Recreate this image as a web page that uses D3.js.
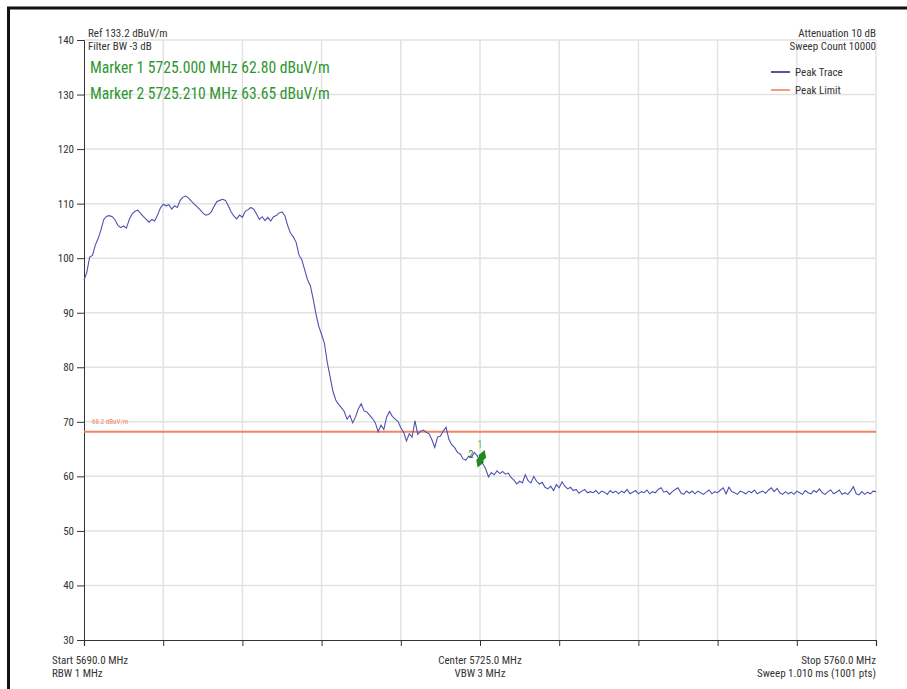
<!DOCTYPE html>
<html>
<head>
<meta charset="utf-8">
<script src="https://cdn.jsdelivr.net/npm/d3@7"></script>
<style>
  body { margin: 0; background: #fff; }
  svg text { font-family: "Liberation Sans Narrow", "Roboto Condensed", "Liberation Sans", sans-serif; fill: #333; }
  .marker-text { fill: #2e962e; font-size: 15.6px; }
  .small { font-size: 11px; }
</style>
</head>
<body>
<svg id="chart"></svg>
<script>
// sweep settings
const startFreq = 5690;
const stopFreq = 5760;
const sweepStep = 0.25;

// peak trace levels (dBuV/m), one per 0.25 MHz step
const levels = [
  96.0, 97.4, 100.2, 100.5, 102.4, 103.6, 105.2, 107.1, 107.7, 107.8,
  107.6, 107.0, 106.0, 105.6, 105.9, 105.5, 107.1, 108.1, 108.6, 108.8,
  108.2, 107.6, 107.1, 106.6, 107.1, 106.8, 107.9, 109.2, 109.9, 109.6,
  109.8, 109.0, 109.6, 109.3, 110.6, 111.2, 111.4, 111.0, 110.4, 109.9,
  109.4, 108.9, 108.3, 107.9, 108.0, 108.5, 109.5, 110.4, 110.6, 110.8,
  110.6, 109.6, 108.5, 107.7, 107.2, 107.9, 107.5, 108.6, 108.9, 109.3,
  109.0, 108.1, 107.1, 107.6, 106.9, 107.5, 106.8, 107.6, 107.8, 108.3,
  108.5, 107.8, 106.0, 104.6, 103.9, 102.9, 100.6, 99.7, 97.9, 96.1,
  95.0, 92.6, 89.8, 87.5, 86.0, 84.4, 80.9, 78.3, 75.6, 74.0,
  73.2, 72.6, 71.9, 70.5, 71.2, 69.8, 70.9, 72.4, 73.3, 72.0,
  71.8, 71.2, 70.6, 69.8, 68.2, 69.4, 68.6, 70.9, 71.9, 71.0,
  70.5, 70.1, 68.9, 68.1, 66.5, 67.8, 67.2, 70.2, 67.7, 68.3,
  68.5, 68.1, 67.8, 66.7, 65.3, 67.2, 67.4, 68.3, 69.0, 66.8,
  65.8, 65.3, 64.4, 64.1, 63.2, 63.0, 63.7, 63.5, 64.4, 63.8,
  62.8, 62.3, 61.4, 59.9, 60.7, 60.3, 61.0, 60.5, 60.9, 60.4,
  60.6, 59.8, 59.3, 58.6, 59.1, 58.8, 60.3, 59.2, 58.8, 60.0,
  59.1, 58.6, 58.9, 58.0, 57.7, 58.2, 57.4, 58.5, 57.9, 59.0,
  58.2, 57.7, 58.0, 57.4, 57.6, 56.9, 57.3, 57.6, 57.0, 57.2,
  57.0, 57.4, 56.8, 57.3, 57.1, 56.7, 57.4, 57.0, 57.3, 56.8,
  57.3, 57.0, 57.6, 56.8, 57.1, 57.4, 56.8, 57.2, 57.0, 57.5,
  56.8, 57.2, 57.0, 57.6, 57.9, 57.1, 57.3, 56.7, 57.2, 57.6,
  57.9, 57.0, 56.7, 57.3, 56.9, 57.3, 56.8, 57.3, 57.0, 56.7,
  57.1, 57.5, 56.8, 57.2, 57.0, 57.5, 57.9, 56.8, 58.0, 57.2,
  57.0, 56.7, 57.3, 57.1, 56.8, 57.3, 57.0, 57.5, 56.8, 57.1,
  57.3, 56.9, 57.5, 57.9, 57.2, 57.8, 57.0, 56.7, 57.2, 56.8,
  57.1, 56.7, 57.3, 57.0, 56.7, 57.4, 57.0, 56.8, 57.4, 57.1,
  57.7, 57.0, 56.7, 57.2, 57.5, 56.8, 57.1, 57.5, 56.7, 57.0,
  56.7, 57.3, 58.1, 56.8, 56.6, 57.2, 56.7, 57.1, 56.8, 57.3, 57.2
];

const limitLevel = 68.2;
const yTicks = [30, 40, 50, 60, 70, 80, 90, 100, 110, 120, 130, 140];

// markers
const markerIds = ["1", "2"];
const markerFreqs = [5725.000, 5725.210];
const markerLevels = [62.80, 63.65];

const headerLeft = ["Ref 133.2 dBuV/m", "Filter BW -3 dB"];
const headerRight = ["Attenuation 10 dB", "Sweep Count 10000"];
const legendNames = ["Peak Trace", "Peak Limit"];
const legendColors = ["#1c1c80", "#f47a4f"];
const footLeft = ["Start 5690.0 MHz", "RBW 1 MHz"];
const footCenter = ["Center 5725.0 MHz", "VBW 3 MHz"];
const footRight = ["Stop 5760.0 MHz", "Sweep 1.010 ms (1001 pts)"];

class SpectrumChart {
  constructor(_config) {
    this.config = {
      parentElement: _config.parentElement,
      containerWidth: _config.containerWidth || 907,
      containerHeight: _config.containerHeight || 689,
      margin: _config.margin || {top: 40, right: 31, bottom: 49, left: 84}
    };
    this.initVis();
  }

  initVis() {
    let vis = this;
    vis.width = vis.config.containerWidth - vis.config.margin.left - vis.config.margin.right;
    vis.height = vis.config.containerHeight - vis.config.margin.top - vis.config.margin.bottom;

    vis.xScale = d3.scaleLinear().domain([startFreq, stopFreq]).range([0, vis.width]);
    vis.yScale = d3.scaleLinear().domain([30, 140]).range([vis.height, 0]);

    vis.svg = d3.select(vis.config.parentElement)
        .attr('width', vis.config.containerWidth)
        .attr('height', vis.config.containerHeight);

    // frame
    vis.svg.append('path')
        .attr('d', `M8.5,${vis.config.containerHeight} V8 H${vis.config.containerWidth}`)
        .attr('fill', 'none')
        .attr('stroke', '#111')
        .attr('stroke-width', 3);

    vis.chart = vis.svg.append('g')
        .attr('transform', `translate(${vis.config.margin.left},${vis.config.margin.top})`);

    vis.gridG = vis.chart.append('g').attr('class', 'grid');
    vis.xAxisG = vis.chart.append('g')
        .attr('class', 'axis x-axis')
        .attr('transform', `translate(0,${vis.height})`);
    vis.yAxisG = vis.chart.append('g').attr('class', 'axis y-axis');
  }

  updateVis() {
    let vis = this;
    vis.trace = levels.map((v, i) => [startFreq + i * sweepStep, v]);
    vis.xTicks = d3.range(startFreq, stopFreq + 0.01, (stopFreq - startFreq) / 10);
    vis.renderVis();
  }

  renderVis() {
    let vis = this;

    // gridlines
    vis.gridG.selectAll('.hgrid')
        .data(yTicks.filter(d => d > 30))
        .join('line')
        .attr('class', 'hgrid')
        .attr('x1', 0).attr('x2', vis.width)
        .attr('y1', d => vis.yScale(d)).attr('y2', d => vis.yScale(d))
        .attr('stroke', '#e2e2e2').attr('stroke-width', 1.5);

    vis.gridG.selectAll('.vgrid')
        .data(vis.xTicks.slice(1))
        .join('line')
        .attr('class', 'vgrid')
        .attr('x1', d => vis.xScale(d)).attr('x2', d => vis.xScale(d))
        .attr('y1', 0).attr('y2', vis.height)
        .attr('stroke', '#e2e2e2').attr('stroke-width', 1.5);

    // axes
    vis.yAxisG.call(d3.axisLeft(vis.yScale).tickValues(yTicks).tickSize(7).tickPadding(3))
        .call(g => g.select('.domain').attr('stroke', '#333'))
        .call(g => g.selectAll('.tick line').attr('stroke', '#333'))
        .call(g => g.selectAll('.tick text')
            .attr('font-size', 11).attr('fill', '#333')
            .attr('font-family', '"Liberation Sans Narrow", sans-serif'));

    vis.xAxisG.call(d3.axisBottom(vis.xScale).tickValues(vis.xTicks).tickSize(6).tickFormat(''))
        .call(g => g.select('.domain').attr('stroke', '#333').attr('stroke-width', 1.2))
        .call(g => g.selectAll('.tick line').attr('stroke', '#333'));

    // limit line
    vis.chart.append('line')
        .attr('x1', 0).attr('x2', vis.width)
        .attr('y1', vis.yScale(limitLevel)).attr('y2', vis.yScale(limitLevel))
        .attr('stroke', '#f4845f').attr('stroke-width', 2);

    vis.chart.append('text')
        .attr('x', 8).attr('y', vis.yScale(limitLevel) - 8)
        .attr('font-size', 7).style('fill', '#f4845f')
        .text(`${limitLevel} dBuV/m`);

    // trace
    const line = d3.line()
        .x(d => vis.xScale(d[0]))
        .y(d => vis.yScale(d[1]));

    vis.chart.append('path')
        .datum(vis.trace)
        .attr('fill', 'none')
        .attr('stroke', '#4e52b0')
        .attr('stroke-width', 1.1)
        .attr('d', line);

    // markers
    const markers = markerIds.map((id, i) => ({id, f: markerFreqs[i], v: markerLevels[i]}));
    vis.chart.selectAll('.marker')
        .data(markers)
        .join('path')
        .attr('class', 'marker')
        .attr('transform', d => `translate(${vis.xScale(d.f)},${vis.yScale(d.v)}) rotate(20)`)
        .attr('d', d3.symbol(d3.symbolDiamond, 55))
        .attr('fill', '#1f8a1f');

    vis.chart.append('text')
        .attr('x', vis.xScale(markerFreqs[0])).attr('y', vis.yScale(markerLevels[0]) - 13)
        .attr('text-anchor', 'middle').attr('font-size', 10)
        .style('fill', '#76c043').text(markerIds[0]);
    vis.chart.append('text')
        .attr('x', vis.xScale(markerFreqs[1]) - 9).attr('y', vis.yScale(markerLevels[1]) + 2)
        .attr('text-anchor', 'end').attr('font-size', 10)
        .style('fill', '#2d7d2d').text(markerIds[1]);

    // header texts
    const m = vis.config.margin;
    vis.svg.selectAll('.hl').data(headerLeft).join('text')
        .attr('class', 'hl small')
        .attr('x', 88).attr('y', (d, i) => 37 + i * 13)
        .text(d => d);

    vis.svg.selectAll('.hr').data(headerRight).join('text')
        .attr('class', 'hr small')
        .attr('x', m.left + vis.width).attr('y', (d, i) => 37 + i * 13)
        .attr('text-anchor', 'end')
        .text(d => d);

    vis.svg.selectAll('.mk').data(markers).join('text')
        .attr('class', 'mk marker-text')
        .attr('x', 90).attr('y', (d, i) => 73 + i * 26)
        .text(d => `Marker ${d.id} ${d.f.toFixed(3)} MHz ${d.v.toFixed(2)} dBuV/m`);

    // legend
    const legend = vis.svg.selectAll('.legend').data(legendNames).join('g')
        .attr('class', 'legend')
        .attr('transform', (d, i) => `translate(771,${72 + i * 18})`);
    legend.append('line')
        .attr('x1', 0).attr('x2', 19)
        .attr('stroke', (d, i) => legendColors[i]).attr('stroke-width', 1.5);
    legend.append('text')
        .attr('class', 'small')
        .attr('x', 24).attr('y', 4)
        .text(d => d);

    // footer texts
    const fy = m.top + vis.height;
    vis.svg.selectAll('.fl').data(footLeft).join('text')
        .attr('class', 'fl small')
        .attr('x', 52).attr('y', (d, i) => fy + 24 + i * 13)
        .text(d => d);
    vis.svg.selectAll('.fc').data(footCenter).join('text')
        .attr('class', 'fc small')
        .attr('x', m.left + vis.xScale(5725)).attr('y', (d, i) => fy + 24 + i * 13)
        .attr('text-anchor', 'middle')
        .text(d => d);
    vis.svg.selectAll('.fr').data(footRight).join('text')
        .attr('class', 'fr small')
        .attr('x', m.left + vis.width).attr('y', (d, i) => fy + 24 + i * 13)
        .attr('text-anchor', 'end')
        .text(d => d);
  }
}

const chart = new SpectrumChart({parentElement: '#chart'});
chart.updateVis();
</script>
</body>
</html>
